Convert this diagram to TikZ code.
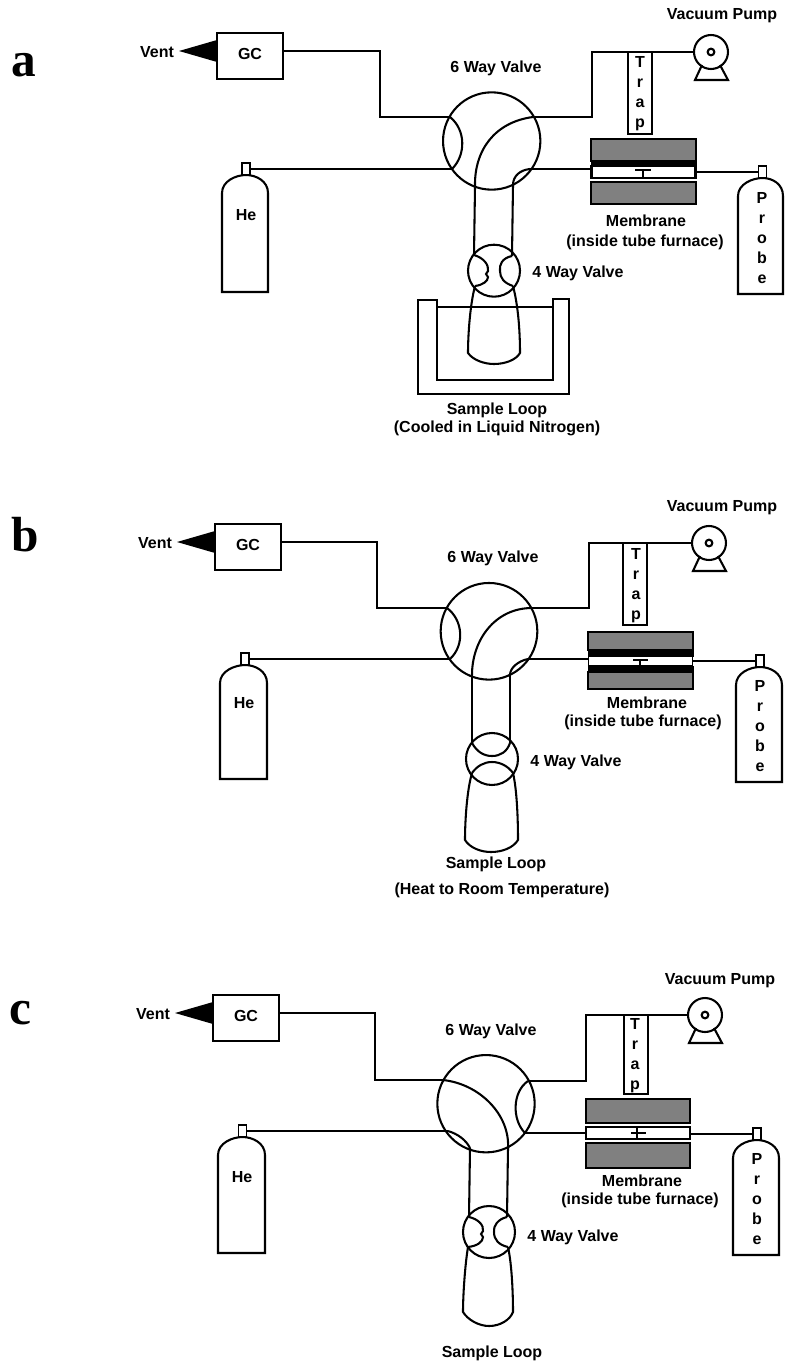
\documentclass[tikz,border=0pt]{standalone}
\usepackage{fontspec}
\setmainfont{Liberation Sans}
\newfontfamily\panelfont{Liberation Serif}
\definecolor{furnace}{gray}{0.5}
\tikzset{
  pipe/.style={draw=black,line width=1.55pt,line join=miter},
  thinpipe/.style={draw=black,line width=1.3pt},
  lbl/.style={font=\fontsize{12pt}{14pt}\selectfont\bfseries,inner sep=0pt,outer sep=0pt,text=black},
  stack/.style={font=\fontsize{12pt}{15pt}\selectfont\bfseries,inner sep=0pt,outer sep=0pt,align=center,text=black},
  panelletter/.style={font=\panelfont\fontsize{37pt}{40pt}\selectfont\bfseries,inner sep=0pt,anchor=base west},
  gcbox/.style={draw=black,line width=1.55pt,fill=white,minimum width=49.5pt,minimum height=34.5pt,inner sep=0pt,outer sep=0pt},
  trapbox/.style={draw=black,line width=1.4pt,fill=white,minimum width=18.5pt,inner sep=0pt,outer sep=0pt},
  valve/.style={circle,draw=black,line width=1.55pt,minimum size=#1,inner sep=0pt,outer sep=0pt},
  furn/.style={draw=black,line width=1.55pt,fill=furnace},
  band/.style={fill=black,draw=black,line width=0.3pt},
  tube/.style={draw=black,fill=white,minimum width=78pt,inner sep=0pt,outer sep=0pt},
  nozzle/.style={draw=black,line width=1.2pt,fill=white,minimum width=6pt,minimum height=9pt,inner sep=0pt,outer sep=0pt},
}
% GC with vent cone: prefix, dx, dy
\newcommand{\gcunit}[3]{
  \begin{scope}[shift={(#2,#3)}]
    \node[gcbox] (#1GC) at (250,56) {\raisebox{3pt}{\fontsize{12pt}{14pt}\selectfont\bfseries GC}};
    \coordinate (#1GCout) at (283,51);
    \coordinate (#1tip) at (179,51);
    \fill[black] (#1tip) -- (217,40) -- (217,62) -- cycle;
    \node[lbl] (#1Vent) at (157,52) {Vent};
  \end{scope}
}
% pump: prefix, dx, dy
\newcommand{\pumpunit}[3]{
  \begin{scope}[shift={(#2,#3)}]
    \node[valve=25.5pt,fill=white] (#1pump) at (711,52) {};
    \node[circle,draw=black,line width=1.6pt,minimum size=5pt,inner sep=0pt] (#1pumpeye) at (711,52) {};
    \draw[pipe] (702,65) -- (695,80) -- (728,80) -- (720,65);
  \end{scope}
}
% cylinder: node name, xl, top, xr, bottom, xnozzle
\newcommand{\cylinder}[6]{
  \draw[pipe] (#2,#5) -- (#2,#3+18) .. controls (#2,#3+6) and (#6-10,#3) .. (#6,#3)
     .. controls (#6+10,#3) and (#4,#3+6) .. (#4,#3+18) -- (#4,#5) -- cycle;
  \node[nozzle] (#1) at (#6,#3-6) {};
}
\begin{document}
\begin{tikzpicture}[x=0.75pt,y=-0.75pt]
\useasboundingbox (0,0) rectangle (785,1363);
\fill[white] (0,0) rectangle (785,1363);

%%%%%%%%%%%%%% PANEL A
\node[panelletter] (aletter) at (11,76) {a};
\gcunit{a}{0}{0}
\pumpunit{a}{0}{0}
\node[lbl] (aVP) at (722,16) {Vacuum Pump};
\node[lbl] (a6lab) at (496,68) {6 Way Valve};
\node[valve=73pt] (a6) at (491.7,141) {};
\coordinate (a6tl) at (450,117);
\coordinate (a6tr) at (533,117);
\coordinate (a6bl) at (452,169);
\coordinate (a6br) at (530,169);
\coordinate (a6pl) at (475,187);
\coordinate (a6pr) at (513,185);
\draw[pipe] (aGCout) -| (380,117) -- (a6tl);
\node[trapbox,minimum height=61.5pt] (aTrap) at (640,93) {};
\node[stack] (aTraptxt) at (640,94) {T\\r\\a\\p};
\draw[pipe] (a6tr) -- (592,117) |- (apump.west);
\draw[pipe] (a6tl) .. controls (466,130) and (466,155) .. (a6bl);
\draw[pipe] (a6tr) .. controls (495,122) and (474,150) .. (a6pl);
\draw[pipe] (a6br) .. controls (520,170) and (513,176) .. (a6pr);
\draw[furn] (591,139) rectangle (696,161);
\fill[band] (591,161) rectangle (696,166);
\draw[furn] (591,182) rectangle (696,204);
\node[tube,line width=1.55pt,minimum height=9.5pt] (amem) at (643.5,172) {};
\draw[thinpipe] (635,170) -- (651,170) (643,170) -- (643,178);
\node[lbl] (amlab) at (646,221) {Membrane};
\node[lbl] (amlab2) at (645,242) {(inside tube furnace)};
\cylinder{aHe}{222}{175}{268}{292}{246}
\node[lbl] (aHetxt) at (246,215) {He};
\cylinder{aProbe}{738}{178}{783}{294}{762.5}
\node[stack] (aProbetxt) at (762,238) {P\\r\\o\\b\\e};
\draw[thinpipe] (aHe.east) -- (a6bl);
\draw[thinpipe] (a6br) -- (amem.west |- a6br);
\draw[thinpipe] (amem.east |- aProbe.west) -- (aProbe.west);
\node[valve=39pt] (a4) at (494,270.7) {};
\coordinate (a4tl) at (474,255);
\coordinate (a4tr) at (512,256);
\coordinate (a4bl) at (475,286);
\coordinate (a4br) at (513,286);
\draw[pipe] (a6pl) -- (a4tl) (a6pr) -- (a4tr);
\draw[pipe] (a4tl) .. controls (484,258) and (489,265) .. (488,271) -- (486,274) -- (488,277) .. controls (488,281) and (483,285) .. (a4bl);
\draw[pipe] (a4tr) .. controls (502,258) and (499,265) .. (500,271) .. controls (500,278) and (504,283) .. (a4br);
\draw[pipe] (a4bl) .. controls (470,305) and (468,335) .. (468,353) .. controls (473,360) and (484,364) .. (494,364) .. controls (505,364) and (516,360) .. (520,353) .. controls (520,330) and (518,305) .. (a4br);
\node[lbl] (a4lab) at (578,273.5) {4 Way Valve};
\draw[pipe] (418,300) -- (437,300) -- (437,380) -- (553,380) -- (553,299) -- (569,299) -- (569,394) -- (418,394) -- cycle;
\draw[thinpipe] (437,307) -- (553,307);
\node[lbl] (asl) at (497,410) {Sample Loop};
\node[lbl] (asl2) at (497,428.5) {(Cooled in Liquid Nitrogen)};

%%%%%%%%%%%%%% PANEL B
\node[panelletter] (bletter) at (11,551) {b};
\gcunit{b}{-2}{491}
\pumpunit{b}{-2}{491}
\node[lbl] (bVP) at (722,508) {Vacuum Pump};
\node[lbl] (b6lab) at (493,558) {6 Way Valve};
\node[valve=72.5pt] (b6) at (489,631.3) {};
\coordinate (b6tl) at (447,608);
\coordinate (b6tr) at (532,608);
\coordinate (b6bl) at (450,659);
\coordinate (b6br) at (528,659);
\coordinate (b6pl) at (472,675);
\coordinate (b6pr) at (510,675);
\draw[pipe] (bGCout) -| (377,608) -- (b6tl);
\node[trapbox,minimum height=61.5pt] (bTrap) at (635,584) {};
\node[stack] (bTraptxt) at (636,586) {T\\r\\a\\p};
\draw[pipe] (b6tr) -- (589,608) |- (bpump.west);
\draw[pipe] (b6tl) .. controls (463,620) and (465,645) .. (b6bl);
\draw[pipe] (b6tr) .. controls (495,608) and (472,640) .. (b6pl);
\draw[pipe] (b6br) .. controls (518,661) and (510,668) .. (b6pr);
\draw[furn] (588,632) rectangle (693,650);
\draw[furn] (588,672) rectangle (693,689);
\fill[band] (588,650) rectangle (693,656);
\fill[band] (588,666) rectangle (693,672);
\node[tube,line width=1.2pt,minimum height=7.5pt] (bmem) at (640.5,661) {};
\draw[thinpipe] (633,660) -- (648,660) (640,660) -- (640,666);
\node[lbl] (bmlab) at (647,703) {Membrane};
\node[lbl] (bmlab2) at (643,722) {(inside tube furnace)};
\cylinder{bHe}{220}{665}{267}{779}{245}
\node[lbl] (bHetxt) at (244,703) {He};
\cylinder{bProbe}{736}{667}{782}{782}{760}
\node[stack] (bProbetxt) at (760,726) {P\\r\\o\\b\\e};
\draw[thinpipe] (bHe.east) -- (b6bl);
\draw[thinpipe] (b6br) -- (bmem.west |- b6br);
\draw[thinpipe] (bmem.east |- bProbe.west) -- (bProbe.west);
\node[valve=39pt] (b4) at (492,759) {};
\coordinate (b4tl) at (472,743);
\coordinate (b4tr) at (510,743);
\coordinate (b4bl) at (472,773);
\coordinate (b4br) at (513,773);
\draw[pipe] (b6pl) -- (b4tl) (b6pr) -- (b4tr);
\draw[pipe] (b4tl) .. controls (477,752) and (484,756) .. (492,756) .. controls (500,756) and (507,752) .. (b4tr);
\draw[pipe] (b4bl) .. controls (477,766) and (484,762) .. (492,762) .. controls (500,762) and (508,766) .. (b4br);
\draw[pipe] (b4bl) .. controls (467,790) and (465,820) .. (465,840) .. controls (470,848) and (481,852) .. (491,852) .. controls (502,852) and (513,848) .. (518,840) .. controls (518,820) and (517,790) .. (b4br);
\node[lbl] (b4lab) at (576,762.5) {4 Way Valve};
\node[lbl] (bsl) at (496,864) {Sample Loop};
\node[lbl] (bsl2) at (502,890) {(Heat to Room Temperature)};

%%%%%%%%%%%%%% PANEL C
\node[panelletter] (cletter) at (9,1024) {c};
\gcunit{c}{-4}{962}
\pumpunit{c}{-6}{963}
\node[lbl] (cVP) at (720,981) {Vacuum Pump};
\node[lbl] (c6lab) at (491,1031) {6 Way Valve};
\node[valve=73pt] (c6) at (486,1103.7) {};
\coordinate (c6tl) at (443,1080);
\coordinate (c6tr) at (528,1081);
\coordinate (c6bl) at (448,1131);
\coordinate (c6br) at (525,1133);
\coordinate (c6pl) at (470,1148);
\coordinate (c6pr) at (508,1148);
\draw[pipe] (cGCout) -| (375,1080) -- (c6tl);
\node[trapbox,minimum height=59pt] (cTrap) at (636,1054.5) {};
\node[stack] (cTraptxt) at (635,1056) {T\\r\\a\\p};
\draw[pipe] (c6tr) -- (586,1081) |- (cpump.west);
\draw[pipe] (c6tr) .. controls (512,1092) and (512,1120) .. (c6br);
\draw[pipe] (c6tl) .. controls (480,1084) and (510,1115) .. (c6pr);
\draw[pipe] (c6bl) .. controls (458,1134) and (466,1140) .. (c6pl);
\draw[furn] (586,1099) rectangle (690,1123);
\draw[furn] (586,1143) rectangle (690,1168);
\node[tube,line width=1.55pt,minimum height=9pt] (cmem) at (638,1133) {};
\draw[thinpipe] (631,1133) -- (646,1133) (637,1128) -- (637,1139);
\node[lbl] (cmlab) at (642,1181) {Membrane};
\node[lbl] (cmlab2) at (640,1200) {(inside tube furnace)};
\cylinder{cHe}{218}{1137}{265}{1253}{242.5}
\node[lbl] (cHetxt) at (242,1177) {He};
\cylinder{cProbe}{733}{1140}{779}{1255}{757}
\node[stack] (cProbetxt) at (757,1199) {P\\r\\o\\b\\e};
\draw[thinpipe] (cHe.east) -- (c6bl);
\draw[thinpipe] (c6br) -- (cmem.west |- c6br);
\draw[thinpipe] (cmem.east |- cProbe.west) -- (cProbe.west);
\node[valve=39pt] (c4) at (489,1232) {};
\coordinate (c4tl) at (469,1217);
\coordinate (c4tr) at (507,1217);
\coordinate (c4bl) at (468,1247);
\coordinate (c4br) at (508,1247);
\draw[pipe] (c6pl) -- (c4tl) (c6pr) -- (c4tr);
\draw[pipe] (c4tl) .. controls (478,1219) and (484,1225) .. (483,1231) -- (481,1234) -- (483,1237) .. controls (483,1242) and (477,1246) .. (c4bl);
\draw[pipe] (c4tr) .. controls (498,1219) and (493,1226) .. (494,1232) .. controls (494,1240) and (499,1245) .. (c4br);
\draw[pipe] (c4bl) .. controls (465,1265) and (463,1295) .. (463,1312) .. controls (468,1320) and (479,1326) .. (489,1326) .. controls (500,1326) and (510,1320) .. (513,1312) .. controls (513,1295) and (512,1265) .. (c4br);
\node[lbl] (c4lab) at (573,1237) {4 Way Valve};
\node[lbl] (csl) at (492,1353) {Sample Loop};
\end{tikzpicture}
\end{document}
